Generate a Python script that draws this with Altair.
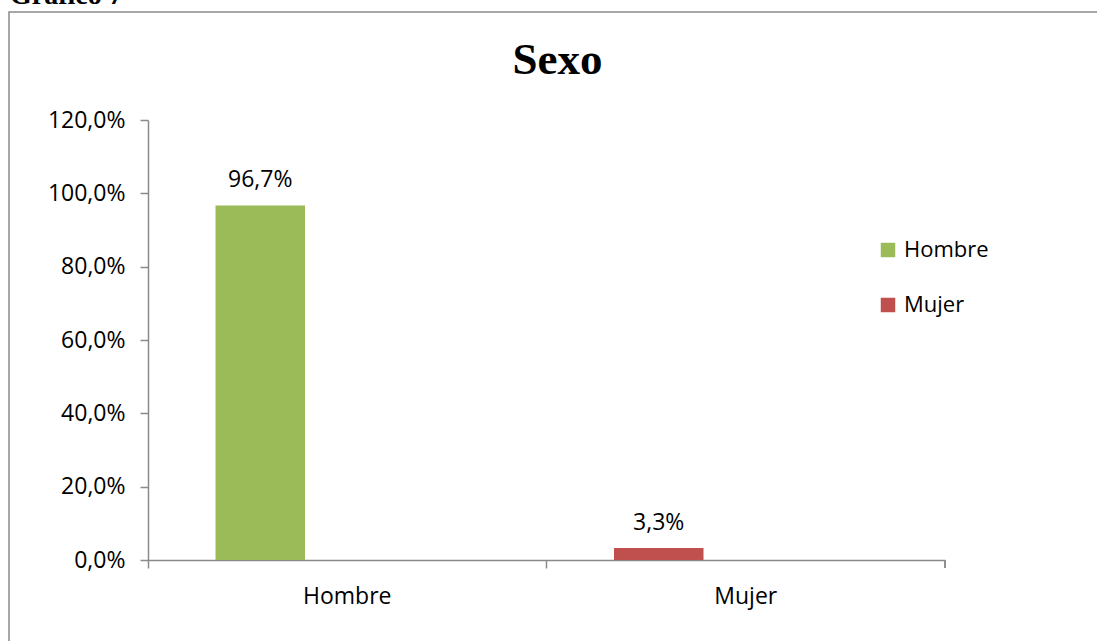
import altair as alt
import pandas as pd

# ---- data ----
categories = ["Hombre", "Mujer"]
values = [0.967, 0.033]
colors = ["#9BBB59", "#C0504D"]
y_ticks = [0.0, 0.2, 0.4, 0.6, 0.8, 1.0, 1.2]
chart_title = "Sexo"
caption = "Gráfico  7"

df = pd.DataFrame({"Sexo": categories, "valor": values})

W, H = 797, 440
FONT = "Open Sans"
GRAY = "#8A8A8A"

base = alt.Chart(df)

xenc = alt.X(
    "Sexo:N",
    sort=categories,
    scale=alt.Scale(paddingInner=0, paddingOuter=0),
    axis=alt.Axis(
        title=None, labelAngle=0, bandPosition=0, tickSize=8, tickColor=GRAY,
        tickWidth=1.5, domainColor=GRAY, domainWidth=1.5, labelFont=FONT,
        labelFontSize=23, labelColor="#000000", labelPadding=17,
    ),
)
yenc = alt.Y(
    "valor:Q",
    scale=alt.Scale(domain=[0, 1.2], nice=False),
    axis=alt.Axis(
        title=None, values=y_ticks, grid=False, tickSize=8, tickColor=GRAY,
        tickWidth=1.5, domainColor=GRAY, domainWidth=1.5, labelFont=FONT,
        labelFontSize=23, labelColor="#000000", labelPadding=15,
        labelExpr="replace(format(datum.value, '.1%'), '.', ',')",
    ),
)

bars = base.mark_bar(width=alt.RelativeBandSize(0.2246), xOffset=-87).encode(
    x=xenc,
    y=yenc,
    color=alt.Color(
        "Sexo:N",
        scale=alt.Scale(domain=categories, range=colors),
        legend=alt.Legend(
            title=None, orient="none", legendX=729, legendY=119, padding=0,
            symbolType="square", symbolSize=210, symbolStrokeWidth=0,
            labelFont=FONT, labelFontSize=22, labelColor="#000000",
            labelOffset=5, rowPadding=33,
        ),
    ),
)

labels = base.transform_calculate(
    lab="replace(format(datum.valor, '.1%'), '.', ',')"
).mark_text(
    xOffset=-87, dy=-18, baseline="alphabetic", font=FONT, fontSize=23, color="#000000"
).encode(x=alt.X("Sexo:N", sort=categories), y="valor:Q", text="lab:N")

end_tick = base.mark_rule(color=GRAY, strokeWidth=1.5).encode(
    x=alt.value(W), y=alt.value(H), y2=alt.value(H + 8)
)

title_mark = alt.Chart(alt.Data(values=[{"t": chart_title}])).mark_text(
    font="Liberation Serif", fontWeight="bold", fontSize=45, color="#000000",
    baseline="alphabetic", align="center",
).encode(x=alt.value(409.5), y=alt.value(-46), text="t:N")

caption_mark = alt.Chart(alt.Data(values=[{"t": caption}])).mark_text(
    font="Liberation Serif", fontWeight="bold", fontSize=28, color="#000000",
    baseline="alphabetic", align="left",
).encode(x=alt.value(10 - 148), y=alt.value(4 - 120), text="t:N")

frame = alt.Chart(alt.Data(values=[{"a": 1}])).mark_rect(
    fill=None, stroke=GRAY, strokeWidth=1.5
).encode(
    x=alt.value(9 - 148), x2=alt.value(W + 300), y=alt.value(12 - 120), y2=alt.value(H + 300)
)

chart = alt.layer(frame, caption_mark, title_mark, bars, labels, end_tick).properties(
    width=W, height=H,
    background="white",
    autosize=alt.AutoSizeParams(type="none"),
    padding={"left": 148, "top": 120, "right": 152, "bottom": 81},
).configure_view(stroke="transparent", strokeWidth=0)

chart.save("out.html", embed_options={"renderer": "svg", "actions": False})
